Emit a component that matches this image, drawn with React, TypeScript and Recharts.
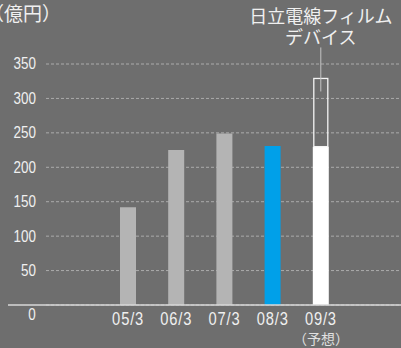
import { BarChart, Bar, XAxis, YAxis, CartesianGrid, LabelList, Cell } from "recharts";

const periods = ["05/3", "06/3", "07/3", "08/3", "09/3"];
const periodNotes = ["", "", "", "", "（予想）"];
const sales = [142, 225, 249, 231, 230];
const filmDevice = [0, 0, 0, 0, 99];
const yTicks = [0, 50, 100, 150, 200, 250, 300, 350];
const barColors = ["#b4b4b4", "#b4b4b4", "#b4b4b4", "#00a0e9", "#ffffff"];
const unitLabel = "（億円）";
const calloutLines = ["日立電線フィルム", "デバイス"];

const chartData = periods.map((period, i) => ({
  period,
  note: periodNotes[i],
  sales: sales[i],
  film: filmDevice[i],
}));

const numFont = '"Liberation Sans", Arial, sans-serif';
const jpFont = '"Noto Sans CJK JP", sans-serif';
const textColor = "#f0f0f0";
const axisColor = "#d8d8d8";

// narrow digits: Liberation Sans squeezed like Arial Narrow
function NarrowText({ x, y, anchor, size, spacing = 0, children }: any) {
  return (
    <text
      transform={`translate(${x},${y}) scale(0.84,1)`}
      x={0}
      y={0}
      textAnchor={anchor}
      dominantBaseline="central"
      fill={textColor}
      fontSize={size}
      letterSpacing={spacing}
      fontFamily={numFont}
    >
      {children}
    </text>
  );
}

function YTick({ x, y, payload }: any) {
  if (payload.value === 0) {
    return (
      <g>
        <line x1={x - 30} x2={x + 8} y1={y} y2={y} stroke={axisColor} strokeWidth={1.5} />
        <NarrowText x={x - 6} y={y + 10} anchor="middle" size={16}>
          0
        </NarrowText>
      </g>
    );
  }
  return (
    <NarrowText x={x - 2} y={y} anchor="end" size={16}>
      {payload.value}
    </NarrowText>
  );
}

function XTick({ x, y, payload, index }: any) {
  const note = periodNotes[index];
  return (
    <g>
      <NarrowText x={x} y={y + 6} anchor="middle" size={17.5} spacing={1}>
        {payload.value}
      </NarrowText>
      {note ? (
        <text x={x} y={y + 25} textAnchor="middle" dominantBaseline="central" fill="#e0e0e0" fontSize={14} fontFamily={jpFont}>
          {note}
        </text>
      ) : null}
    </g>
  );
}

function OutlineBar({ x, y, width, height }: any) {
  if (!height || height <= 0) return null;
  return <rect x={x + 1} y={y} width={width - 2} height={height} fill="none" stroke="#f4f4f4" strokeWidth={1.3} />;
}

function Callout({ x, y, width, value }: any) {
  if (!value) return null;
  const cx = x + width / 2;
  return (
    <g>
      <line x1={cx} x2={cx} y1={y - 31} y2={y + 13} stroke="#c4c4c4" strokeWidth={1} />
      <text x={cx} y={y - 63} textAnchor="middle" dominantBaseline="central" fill={textColor} fontSize={18} fontFamily={jpFont}>
        {calloutLines[0]}
      </text>
      <text x={cx} y={y - 42} textAnchor="middle" dominantBaseline="central" fill={textColor} fontSize={18} fontFamily={jpFont}>
        {calloutLines[1]}
      </text>
    </g>
  );
}

export default function App() {
  return (
    <div style={{ position: "absolute", left: 0, top: 0, width: 401, height: 348, background: "#6e6e6e", overflow: "hidden" }}>
      <div
        style={{
          position: "absolute",
          left: -15,
          top: 1,
          fontSize: 19,
          lineHeight: "24px",
          color: textColor,
          fontFamily: jpFont,
          whiteSpace: "nowrap",
        }}
      >
        {unitLabel}
      </div>
      <BarChart width={401} height={348} data={chartData} margin={{ top: 64, right: 0, bottom: 3, left: 0 }} barSize={16}>
        <CartesianGrid vertical={false} stroke="#ababab" strokeDasharray="3 2" />
        <XAxis
          dataKey="period"
          height={40}
          padding={{ left: 58, right: 56 }}
          axisLine={{ stroke: axisColor, strokeWidth: 1.5 }}
          tickLine={false}
          tick={<XTick />}
          interval={0}
        />
        <YAxis
          domain={[0, 350]}
          ticks={yTicks}
          width={46}
          axisLine={false}
          tickLine={false}
          tick={<YTick />}
          interval={0}
        />
        <Bar dataKey="sales" stackId="a" isAnimationActive={false}>
          {chartData.map((d, i) => (
            <Cell key={d.period} fill={barColors[i]} />
          ))}
        </Bar>
        <Bar dataKey="film" stackId="a" isAnimationActive={false} shape={<OutlineBar />}>
          <LabelList dataKey="film" content={<Callout />} />
        </Bar>
      </BarChart>
    </div>
  );
}
